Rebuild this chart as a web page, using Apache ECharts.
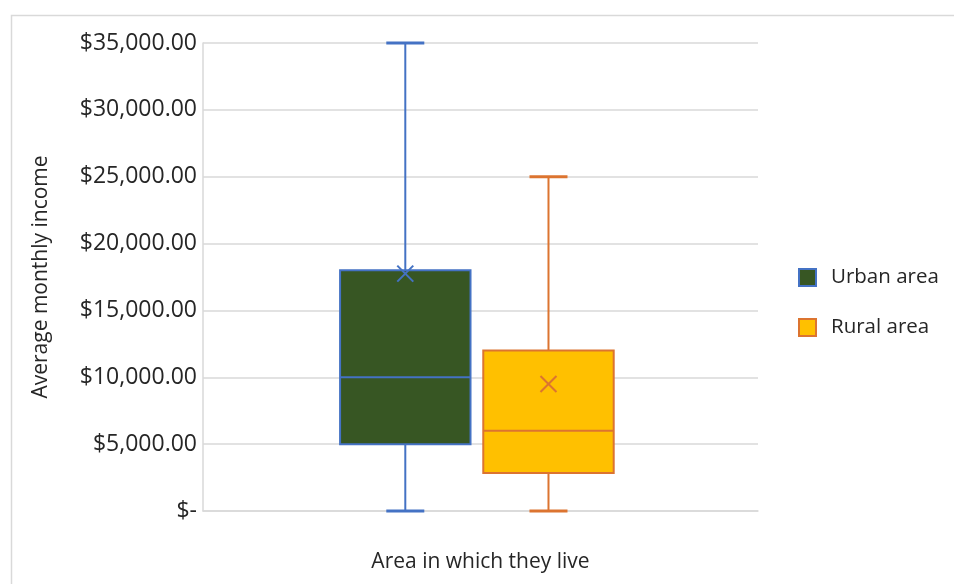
<!DOCTYPE html>
<html>
<head>
<meta charset="utf-8">
<script src="https://cdn.jsdelivr.net/npm/echarts@6/dist/echarts.min.js"></script>
<style>html,body{margin:0;padding:0;background:#fff}#c{width:954px;height:584px}</style>
</head>
<body>
<div id="c"></div>
<script>
// ---- data ----
var categories = [''];
var seriesNames = ['Urban area', 'Rural area'];
var minVals = [0, 0];
var q1Vals = [5000, 2850];
var medianVals = [10000, 6000];
var q3Vals = [18000, 12000];
var maxVals = [35000, 25000];
var meanVals = [17750, 9500];
var yTicks = [0, 5000, 10000, 15000, 20000, 25000, 30000, 35000];

// ---- style ----
var fills = ['#375623', '#FFC000'];
var strokes = ['#4472C4', '#DC7430'];
var offsets = [-0.1355, 0.1225];
var boxFrac = 0.235;
var capHalf = 19;
var FONT = 'Open Sans';
var TXT = '#262626';

function fmt(v) {
  if (v === 0) return '$-';
  return '$' + v.toLocaleString('en-US', {minimumFractionDigits: 2, maximumFractionDigits: 2});
}

function makeRender(i) {
  return function (params, api) {
    var band = api.size([1, 0])[0];
    var cx = api.coord([api.value(0), 0])[0] + offsets[i] * band;
    var w = boxFrac * band;
    var y = function (d) { return api.coord([api.value(0), api.value(d)])[1]; };
    var yMin = y(1), yQ1 = y(2), yMed = y(3), yQ3 = y(4), yMax = y(5), yMean = y(6);
    var ls = {stroke: strokes[i], lineWidth: 2};
    var m = 8;
    return {
      type: 'group',
      children: [
        {type: 'line', shape: {x1: cx, y1: yQ3, x2: cx, y2: yMax}, style: ls},
        {type: 'line', shape: {x1: cx, y1: yMin, x2: cx, y2: yQ1}, style: ls},
        {type: 'line', shape: {x1: cx - capHalf, y1: yMax, x2: cx + capHalf, y2: yMax}, style: {stroke: strokes[i], lineWidth: 3}},
        {type: 'line', shape: {x1: cx - capHalf, y1: yMin, x2: cx + capHalf, y2: yMin}, style: {stroke: strokes[i], lineWidth: 3}},
        {type: 'rect', shape: {x: cx - w / 2, y: yQ3, width: w, height: yQ1 - yQ3}, style: {fill: fills[i], stroke: strokes[i], lineWidth: 2}},
        {type: 'line', shape: {x1: cx - w / 2, y1: yMed, x2: cx + w / 2, y2: yMed}, style: ls},
        {type: 'line', shape: {x1: cx - m, y1: yMean - m, x2: cx + m, y2: yMean + m}, style: ls},
        {type: 'line', shape: {x1: cx - m, y1: yMean + m, x2: cx + m, y2: yMean - m}, style: ls}
      ]
    };
  };
}

var series = seriesNames.map(function (name, i) {
  return {
    name: name,
    type: 'custom',
    renderItem: makeRender(i),
    itemStyle: {color: fills[i], borderColor: strokes[i], borderWidth: 2},
    encode: {x: 0, y: [1, 2, 3, 4, 5, 6]},
    data: categories.map(function (c, k) {
      return [k, minVals[i], q1Vals[i], medianVals[i], q3Vals[i], maxVals[i], meanVals[i]];
    }),
    silent: true
  };
});

var chart = echarts.init(document.getElementById('c'), null, {renderer: 'canvas'});
chart.setOption({
  animation: false,
  backgroundColor: '#fff',
  graphic: [{
    type: 'rect', left: 9, top: 13, shape: {width: 1000, height: 700},
    style: {fill: 'none', stroke: '#d9d9d9', lineWidth: 1.5}, silent: true, z: -1
  }],
  grid: {left: 203, right: 196, top: 43, bottom: 73, containLabel: false},
  legend: {
    orient: 'vertical', left: 798, top: 267, padding: 0, itemWidth: 17, itemHeight: 17, itemGap: 29,
    icon: 'rect',
    textStyle: {fontFamily: FONT, fontSize: 20.5, color: TXT, padding: [0, 0, 0, 10]},
    data: seriesNames.map(function (n, i) {
      return {name: n, itemStyle: {color: fills[i], borderColor: strokes[i], borderWidth: 2}};
    })
  },
  xAxis: {
    type: 'category', data: categories,
    name: 'Area in which they live', nameLocation: 'middle', nameGap: 41,
    nameTextStyle: {fontFamily: FONT, fontSize: 21, color: TXT},
    axisLine: {show: true, lineStyle: {color: '#d9d9d9', width: 1.5}},
    axisTick: {show: false}, axisLabel: {show: false}
  },
  yAxis: {
    type: 'value', min: 0, max: 35000, interval: 5000,
    name: 'Average monthly income', nameLocation: 'middle', nameGap: 151,
    nameTextStyle: {fontFamily: FONT, fontSize: 21, color: TXT},
    axisLine: {show: true, lineStyle: {color: '#d9d9d9', width: 1.5}},
    axisTick: {show: false},
    axisLabel: {fontFamily: FONT, fontSize: 23, color: TXT, margin: 6, formatter: function (v) { return fmt(v); },
      customValues: yTicks},
    splitLine: {lineStyle: {color: '#d9d9d9', width: 1.5}}
  },
  series: series
});
</script>
</body>
</html>
